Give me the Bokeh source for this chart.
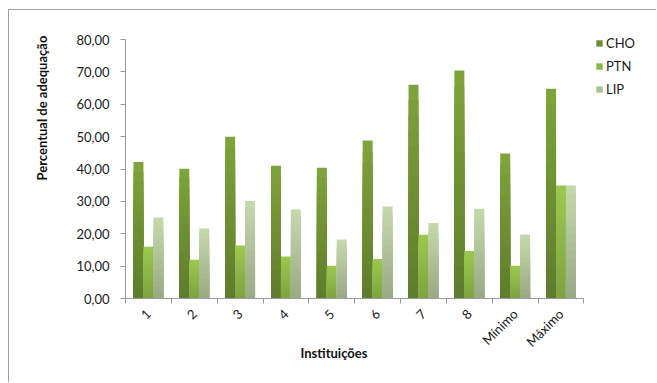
import math
import numpy as np
from bokeh.plotting import figure
from bokeh.models import (ColumnDataSource, LinearAxis, FixedTicker, CustomJSTickFormatter,
                          Legend, LegendItem, Title, Range1d, BoxAnnotation)
from bokeh.transform import dodge
from bokeh.embed import file_html
from bokeh.resources import INLINE

categories = ["1", "2", "3", "4", "5", "6", "7", "8", "Mínimo", "Máximo"]
cho = [42.2, 40.1, 50.0, 41.0, 40.4, 48.8, 66.0, 70.4, 44.8, 64.8]
ptn = [16.0, 12.0, 16.4, 13.0, 10.1, 12.2, 19.7, 14.7, 10.1, 34.9]
lip = [25.0, 21.6, 30.1, 27.5, 18.2, 28.4, 23.3, 27.7, 19.8, 34.9]
series_names = ["CHO", "PTN", "LIP"]
y_ticks = [0, 10, 20, 30, 40, 50, 60, 70, 80]

FONT = "Lato"
# (bottom colour, top colour) of each series' vertical gradient
gradients = [("#5e7c2d", "#7ea43b"), ("#7ea33f", "#9bc94f"), ("#99a984", "#c6d9ac")]

n = len(categories)
centers = np.arange(n) + 0.5

# plot area: 461 px wide for the categories, frame continues 74 px to the right
# (legend sits there); frame top extended 10 px above the 80 line
x_end = n * (461 + 74) / 461
y_end = 80 * (259 + 10) / 259

p = figure(width=648, height=373, output_backend="svg", toolbar_location=None,
           x_range=Range1d(0, x_end), y_range=Range1d(0, y_end),
           min_border_left=113, min_border_right=0, min_border_top=19, min_border_bottom=85,
           x_axis_type=None, y_axis_type=None)
p.margin = (9, 0, 0, 8)
p.styles = {"border-left": "1px solid #a0a0a0", "border-top": "1px solid #a0a0a0"}
p.outline_line_color = None
p.background_fill_color = "white"
p.border_fill_color = "white"


def mix(c0, c1, t):
    a = [int(c0[i:i + 2], 16) for i in (1, 3, 5)]
    b = [int(c1[i:i + 2], 16) for i in (1, 3, 5)]
    return "#" + "".join(f"{round(x + (y - x) * t):02x}" for x, y in zip(a, b))


bw = 0.217
K = 14
legend_renderers = []
for s, (vals, offset) in enumerate(zip([cho, ptn, lip], [-bw, 0.0, bw])):
    vals = np.asarray(vals, dtype=float)
    c_bot, c_top = gradients[s]
    mid = None
    for k in range(K):
        frac = (K - k) / K  # tallest (lightest) layer first, overlapped by darker lower ones
        src = ColumnDataSource(dict(x=centers + offset, top=vals * frac))
        r = p.vbar(x="x", top="top", width=bw, source=src,
                   fill_color=mix(c_bot, c_top, frac - 0.5 / K), line_color=None)
        if k == K // 2:
            mid = r
    legend_renderers.append(mid)

yaxis = LinearAxis(ticker=FixedTicker(ticks=y_ticks), bounds=(0, 80))
yaxis.formatter = CustomJSTickFormatter(code="return tick.toFixed(2).replace('.', ',');")
yaxis.axis_line_color = "#9a9a9a"
yaxis.major_tick_line_color = "#9a9a9a"
yaxis.major_tick_out = 5
yaxis.major_tick_in = 0
yaxis.minor_tick_line_color = None
yaxis.major_label_standoff = 11
yaxis.major_label_text_font = FONT
yaxis.major_label_text_font_size = "13px"
yaxis.major_label_text_color = "#1a1a1a"
p.add_layout(yaxis, "left")

xaxis = LinearAxis(ticker=FixedTicker(ticks=list(centers), minor_ticks=list(range(n + 1))),
                   bounds=(0, n))
xaxis.major_label_overrides = {float(c): lab for c, lab in zip(centers, categories)}
xaxis.axis_line_color = "#9a9a9a"
xaxis.major_tick_line_color = None
xaxis.major_tick_out = 0
xaxis.major_tick_in = 0
xaxis.minor_tick_line_color = "#9a9a9a"
xaxis.minor_tick_out = 5
xaxis.minor_tick_in = 0
xaxis.major_label_orientation = math.pi / 4
xaxis.major_label_standoff = 8
xaxis.major_label_text_font = FONT
xaxis.major_label_text_font_size = "13px"
xaxis.major_label_text_color = "#1a1a1a"
p.add_layout(xaxis, "below")

p.ygrid.grid_line_color = "#a6a6a6"
p.ygrid.ticker = FixedTicker(ticks=y_ticks)
p.xgrid.grid_line_color = None

# blank out the grid to the right of the category area
p.add_layout(BoxAnnotation(left=n, fill_color="white", fill_alpha=1.0, line_color=None))

ytitle = Title(text="Percentual de adequação", align="left", offset=118,
               vertical_align="middle", standoff=46,
               text_font=FONT, text_font_style="bold", text_font_size="13px",
               text_color="#111111")
p.add_layout(ytitle, "left")

xtitle = Title(text="Instituições", align="left", offset=175,
               vertical_align="top", standoff=-28,
               text_font=FONT, text_font_style="bold", text_font_size="13px",
               text_color="#111111")
p.add_layout(xtitle, "below")

legend = Legend(items=[LegendItem(label=name, renderers=[r])
                       for name, r in zip(series_names, legend_renderers)],
                location=(470, 201), orientation="vertical")
legend.glyph_width = 8
legend.glyph_height = 8
legend.label_height = 15
legend.spacing = 7
legend.padding = 0
legend.margin = 0
legend.label_standoff = 3
legend.border_line_color = None
legend.background_fill_alpha = 0
legend.label_text_font = FONT
legend.label_text_font_size = "13px"
legend.label_text_color = "#1a1a1a"
p.add_layout(legend, "center")

open("out.html", "w").write(file_html(p, INLINE))
